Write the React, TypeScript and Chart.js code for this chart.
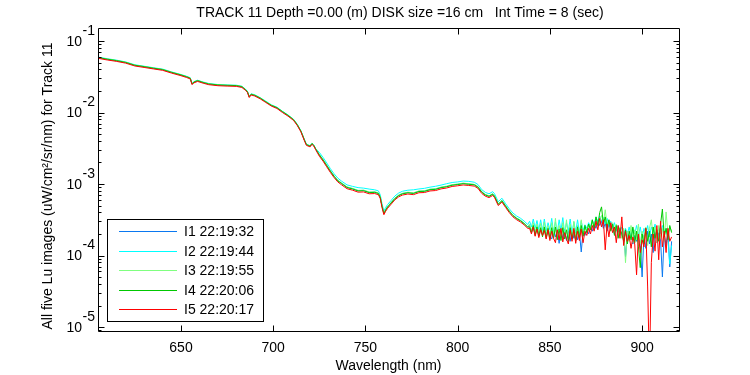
import { useEffect, useRef } from "react";
import { Chart, registerables } from "chart.js";

Chart.register(...registerables);

const TITLE = "TRACK 11 Depth =0.00 (m) DISK size =16 cm   Int Time = 8 (sec)";
const X_TITLE = "Wavelength (nm)";
const Y_TITLE = "All five Lu images (uW/cm²/sr/nm) for Track 11";

const xTicks = [650, 700, 750, 800, 850, 900];
const yTicks = [1e-5, 1e-4, 1e-3, 1e-2, 1e-1];
const yTickExponents = ["-5", "-4", "-3", "-2", "-1"];

const X_MIN = 605;
const X_MAX = 920;
const Y_MIN = 8.8e-6;
const Y_MAX = 0.152;

const seriesLabels = ["I1 22:19:32", "I2 22:19:44", "I3 22:19:55", "I4 22:20:06", "I5 22:20:17"];
const seriesColors = ["#0a78f0", "#00ffff", "#80ff80", "#00c800", "#ff0000"];

const wavelengths = [
  605, 610, 615, 620, 625, 630, 635, 640, 645, 650,
  653, 655, 656, 657, 659, 662, 665, 670, 675, 680,
  683, 685, 686, 687, 688, 690, 693, 696, 699, 702,
  705, 708, 711, 713, 715, 717, 718, 720, 721, 722,
  723, 725, 727, 729, 731, 733, 735, 737, 740, 743,
  746, 749, 752, 755, 757, 758, 759, 760, 761, 762,
  764, 766, 768, 770, 773, 776, 779, 782, 785, 788,
  791, 794, 797, 800, 803, 806, 809, 811, 813, 815,
  817, 819, 820, 822, 824, 826, 828, 830, 832, 834,
  836, 838,
  839, 840, 841, 842, 843, 844, 845, 846, 847, 848,
  849, 850, 851, 852, 853, 854, 855, 856, 857, 858,
  859, 860, 861, 862, 863, 864, 865, 866, 867, 868,
  869, 870, 871, 872, 873, 874, 875, 876, 877, 878,
  879, 880, 881, 882, 883, 884, 885, 886, 887, 888,
  889, 890, 891, 892, 893, 894, 895, 896, 897, 898,
  899, 900, 901, 902, 903, 904, 905, 906, 907, 908,
  909, 910, 911, 912, 913, 914, 915, 916,
];

const i1Values = [
  5.84e-2, 5.54e-2, 5.29e-2, 5.00e-2, 4.56e-2, 4.36e-2, 4.15e-2, 3.97e-2, 3.62e-2, 3.34e-2,
  3.15e-2, 3.01e-2, 2.50e-2, 2.65e-2, 2.77e-2, 2.62e-2, 2.50e-2, 2.42e-2, 2.39e-2, 2.37e-2,
  2.28e-2, 2.08e-2, 1.95e-2, 1.65e-2, 1.80e-2, 1.73e-2, 1.58e-2, 1.41e-2, 1.25e-2, 1.16e-2,
  1.02e-2, 9.09e-3, 7.92e-3, 6.74e-3, 5.48e-3, 4.06e-3, 3.54e-3, 3.38e-3, 3.66e-3, 3.46e-3,
  3.08e-3, 2.57e-3, 2.19e-3, 1.83e-3, 1.52e-3, 1.29e-3, 1.12e-3, 1.03e-3, 9.03e-4, 8.61e-4,
  8.09e-4, 8.14e-4, 7.67e-4, 7.72e-4, 7.46e-4, 6.63e-4, 4.91e-4, 3.91e-4, 4.38e-4, 4.80e-4,
  5.51e-4, 6.33e-4, 6.94e-4, 7.35e-4, 7.61e-4, 7.46e-4, 7.93e-4, 7.98e-4, 8.40e-4, 8.51e-4,
  8.98e-4, 9.24e-4, 9.71e-4, 9.92e-4, 1.02e-3, 1.00e-3, 9.82e-4, 9.15e-4, 7.78e-4, 7.10e-4,
  6.78e-4, 7.27e-4, 6.78e-4, 5.25e-4, 5.88e-4, 4.94e-4, 4.18e-4, 3.64e-4, 3.32e-4, 3.10e-4,
  2.82e-4, 2.52e-4,
  2.63e-4, 2.19e-4, 2.51e-4, 2.00e-4, 2.51e-4, 1.91e-4, 2.40e-4, 1.95e-4, 2.51e-4, 1.82e-4,
  2.34e-4, 1.86e-4, 1.70e-4, 2.29e-4, 1.82e-4, 2.24e-4, 1.48e-4, 2.19e-4, 1.74e-4, 2.34e-4,
  1.62e-4, 2.19e-4, 1.58e-4, 2.29e-4, 1.74e-4, 2.24e-4, 1.66e-4, 2.14e-4, 1.12e-4, 2.19e-4,
  1.91e-4, 2.29e-4, 2.00e-4, 2.51e-4, 2.19e-4, 2.75e-4, 2.40e-4, 3.16e-4, 2.63e-4, 3.02e-4,
  2.40e-4, 2.82e-4, 2.19e-4, 2.75e-4, 2.40e-4, 2.63e-4, 2.00e-4, 2.51e-4, 2.09e-4, 2.40e-4,
  1.82e-4, 2.19e-4, 9.55e-5, 2.00e-4, 1.66e-4, 2.09e-4, 1.45e-4, 1.91e-4, 1.58e-4, 2.00e-4,
  1.38e-4, 5.01e-5, 1.91e-4, 1.26e-4, 2.19e-4, 1.45e-4, 2.00e-4, 1.10e-4, 2.29e-4, 1.51e-4,
  2.09e-4, 1.66e-4, 5.01e-5, 2.00e-4, 1.38e-4, 2.19e-4, 6.92e-5, 1.58e-4,
];

const i2Values = [
  5.96e-2, 5.65e-2, 5.40e-2, 5.10e-2, 4.65e-2, 4.44e-2, 4.23e-2, 4.05e-2, 3.69e-2, 3.40e-2,
  3.21e-2, 3.07e-2, 2.55e-2, 2.70e-2, 2.83e-2, 2.67e-2, 2.55e-2, 2.46e-2, 2.43e-2, 2.41e-2,
  2.33e-2, 2.12e-2, 1.99e-2, 1.68e-2, 1.83e-2, 1.77e-2, 1.61e-2, 1.44e-2, 1.28e-2, 1.19e-2,
  1.04e-2, 9.27e-3, 8.07e-3, 6.87e-3, 5.58e-3, 4.14e-3, 3.61e-3, 3.44e-3, 3.73e-3, 3.53e-3,
  3.14e-3, 2.77e-3, 2.36e-3, 1.97e-3, 1.64e-3, 1.39e-3, 1.21e-3, 1.10e-3, 9.72e-4, 9.27e-4,
  8.90e-4, 8.76e-4, 8.50e-4, 8.31e-4, 8.02e-4, 7.13e-4, 5.29e-4, 4.20e-4, 4.71e-4, 5.16e-4,
  5.93e-4, 6.81e-4, 7.47e-4, 7.91e-4, 8.19e-4, 8.30e-4, 8.53e-4, 8.70e-4, 9.04e-4, 9.30e-4,
  9.66e-4, 1.01e-3, 1.05e-3, 1.07e-3, 1.10e-3, 1.09e-3, 1.06e-3, 9.84e-4, 8.37e-4, 7.64e-4,
  7.30e-4, 7.82e-4, 7.30e-4, 5.65e-4, 6.33e-4, 5.31e-4, 4.50e-4, 3.92e-4, 3.57e-4, 3.33e-4,
  3.04e-4, 2.71e-4,
  3.02e-4, 2.51e-4, 3.24e-4, 2.40e-4, 3.09e-4, 2.29e-4, 3.16e-4, 2.24e-4, 3.24e-4, 2.19e-4,
  2.88e-4, 2.29e-4, 3.31e-4, 2.14e-4, 2.95e-4, 2.09e-4, 3.16e-4, 2.24e-4, 3.39e-4, 2.09e-4,
  2.88e-4, 2.19e-4, 3.24e-4, 2.04e-4, 2.95e-4, 2.14e-4, 3.16e-4, 2.09e-4, 3.02e-4, 2.24e-4,
  2.69e-4, 2.40e-4, 2.88e-4, 2.51e-4, 3.16e-4, 2.69e-4, 3.47e-4, 2.88e-4, 3.55e-4, 3.02e-4,
  3.39e-4, 2.75e-4, 3.31e-4, 2.63e-4, 3.02e-4, 2.40e-4, 2.88e-4, 2.19e-4, 2.63e-4, 2.09e-4,
  2.51e-4, 1.91e-4, 2.40e-4, 2.00e-4, 2.51e-4, 1.82e-4, 2.40e-4, 2.00e-4, 2.63e-4, 1.91e-4,
  2.51e-4, 1.74e-4, 2.40e-4, 2.00e-4, 2.63e-4, 1.82e-4, 2.51e-4, 2.09e-4, 2.75e-4, 1.91e-4,
  2.40e-4, 2.00e-4, 2.63e-4, 2.09e-4, 2.40e-4, 1.74e-4, 7.59e-5, 1.38e-4,
];

const i3Values = [
  5.90e-2, 5.59e-2, 5.35e-2, 5.05e-2, 4.60e-2, 4.40e-2, 4.19e-2, 4.01e-2, 3.66e-2, 3.37e-2,
  3.18e-2, 3.04e-2, 2.52e-2, 2.68e-2, 2.80e-2, 2.65e-2, 2.52e-2, 2.44e-2, 2.41e-2, 2.39e-2,
  2.31e-2, 2.10e-2, 1.97e-2, 1.67e-2, 1.81e-2, 1.75e-2, 1.60e-2, 1.42e-2, 1.27e-2, 1.17e-2,
  1.03e-2, 9.18e-3, 7.99e-3, 6.81e-3, 5.53e-3, 4.10e-3, 3.57e-3, 3.41e-3, 3.70e-3, 3.49e-3,
  3.11e-3, 2.60e-3, 2.22e-3, 1.84e-3, 1.54e-3, 1.30e-3, 1.13e-3, 1.04e-3, 9.12e-4, 8.69e-4,
  8.16e-4, 8.22e-4, 7.74e-4, 7.79e-4, 7.53e-4, 6.69e-4, 4.96e-4, 3.94e-4, 4.42e-4, 4.84e-4,
  5.57e-4, 6.39e-4, 7.01e-4, 7.42e-4, 7.69e-4, 7.53e-4, 8.00e-4, 8.06e-4, 8.48e-4, 8.59e-4,
  9.06e-4, 9.33e-4, 9.81e-4, 1.00e-3, 1.03e-3, 1.01e-3, 9.91e-4, 9.23e-4, 7.85e-4, 7.17e-4,
  6.85e-4, 7.34e-4, 6.85e-4, 5.30e-4, 5.94e-4, 4.98e-4, 4.22e-4, 3.68e-4, 3.35e-4, 3.13e-4,
  2.85e-4, 2.54e-4,
  2.75e-4, 2.19e-4, 2.88e-4, 2.09e-4, 2.75e-4, 2.00e-4, 2.82e-4, 1.95e-4, 2.95e-4, 1.91e-4,
  2.63e-4, 1.86e-4, 2.88e-4, 1.95e-4, 3.31e-4, 1.86e-4, 2.63e-4, 1.78e-4, 2.88e-4, 1.86e-4,
  3.16e-4, 1.74e-4, 2.75e-4, 1.70e-4, 3.02e-4, 1.78e-4, 2.63e-4, 1.86e-4, 3.16e-4, 1.95e-4,
  2.51e-4, 2.19e-4, 2.75e-4, 2.29e-4, 3.02e-4, 2.51e-4, 3.31e-4, 2.63e-4, 3.16e-4, 3.63e-4,
  2.88e-4, 4.37e-4, 2.63e-4, 3.16e-4, 2.29e-4, 2.88e-4, 2.09e-4, 2.75e-4, 1.91e-4, 2.51e-4,
  1.74e-4, 2.40e-4, 7.94e-5, 2.19e-4, 1.58e-4, 2.63e-4, 1.51e-4, 2.29e-4, 1.66e-4, 2.75e-4,
  1.45e-4, 2.19e-4, 1.66e-4, 2.51e-4, 1.38e-4, 2.40e-4, 3.16e-4, 1.82e-4, 2.51e-4, 1.51e-4,
  2.63e-4, 1.74e-4, 2.40e-4, 1.58e-4, 4.07e-4, 2.00e-4, 2.51e-4, 2.19e-4,
];

const i4Values = [
  5.87e-2, 5.57e-2, 5.32e-2, 5.02e-2, 4.58e-2, 4.38e-2, 4.17e-2, 3.99e-2, 3.64e-2, 3.35e-2,
  3.17e-2, 3.02e-2, 2.51e-2, 2.67e-2, 2.79e-2, 2.63e-2, 2.51e-2, 2.43e-2, 2.40e-2, 2.38e-2,
  2.30e-2, 2.09e-2, 1.96e-2, 1.66e-2, 1.80e-2, 1.74e-2, 1.59e-2, 1.41e-2, 1.26e-2, 1.17e-2,
  1.03e-2, 9.13e-3, 7.95e-3, 6.78e-3, 5.50e-3, 4.08e-3, 3.56e-3, 3.39e-3, 3.68e-3, 3.47e-3,
  3.10e-3, 2.55e-3, 2.17e-3, 1.81e-3, 1.51e-3, 1.28e-3, 1.11e-3, 1.02e-3, 8.94e-4, 8.53e-4,
  8.01e-4, 8.06e-4, 7.59e-4, 7.64e-4, 7.38e-4, 6.56e-4, 4.87e-4, 3.87e-4, 4.34e-4, 4.75e-4,
  5.46e-4, 6.27e-4, 6.87e-4, 7.28e-4, 7.54e-4, 7.38e-4, 7.85e-4, 7.90e-4, 8.32e-4, 8.42e-4,
  8.89e-4, 9.15e-4, 9.62e-4, 9.83e-4, 1.01e-3, 9.93e-4, 9.72e-4, 9.06e-4, 7.71e-4, 7.03e-4,
  6.72e-4, 7.20e-4, 6.72e-4, 5.20e-4, 5.82e-4, 4.89e-4, 4.14e-4, 3.61e-4, 3.29e-4, 3.07e-4,
  2.80e-4, 2.50e-4,
  2.51e-4, 2.09e-4, 2.63e-4, 1.91e-4, 2.51e-4, 1.86e-4, 2.45e-4, 1.82e-4, 2.51e-4, 1.74e-4,
  2.40e-4, 1.70e-4, 2.45e-4, 1.74e-4, 2.51e-4, 1.66e-4, 2.34e-4, 1.62e-4, 2.45e-4, 1.70e-4,
  2.29e-4, 1.58e-4, 2.45e-4, 1.70e-4, 2.29e-4, 1.62e-4, 2.51e-4, 1.78e-4, 2.63e-4, 1.86e-4,
  2.63e-4, 2.09e-4, 2.75e-4, 2.29e-4, 3.16e-4, 2.40e-4, 3.47e-4, 2.63e-4, 3.98e-4, 4.79e-4,
  2.75e-4, 3.47e-4, 2.40e-4, 3.16e-4, 2.19e-4, 2.75e-4, 1.91e-4, 2.63e-4, 1.74e-4, 2.40e-4,
  2.00e-4, 1.58e-4, 2.29e-4, 1.45e-4, 2.19e-4, 1.66e-4, 2.51e-4, 1.51e-4, 2.19e-4, 1.32e-4,
  6.76e-5, 2.00e-4, 1.45e-4, 2.40e-4, 1.58e-4, 2.19e-4, 1.32e-4, 2.51e-4, 1.74e-4, 2.29e-4,
  1.58e-4, 2.75e-4, 4.47e-4, 1.82e-4, 2.40e-4, 1.66e-4, 2.63e-4, 2.09e-4,
];

const i5Values = [
  5.73e-2, 5.43e-2, 5.19e-2, 4.90e-2, 4.47e-2, 4.27e-2, 4.07e-2, 3.89e-2, 3.55e-2, 3.27e-2,
  3.09e-2, 2.95e-2, 2.45e-2, 2.60e-2, 2.72e-2, 2.57e-2, 2.45e-2, 2.37e-2, 2.34e-2, 2.32e-2,
  2.24e-2, 2.04e-2, 1.91e-2, 1.62e-2, 1.76e-2, 1.70e-2, 1.55e-2, 1.38e-2, 1.23e-2, 1.14e-2,
  1.00e-2, 8.91e-3, 7.76e-3, 6.61e-3, 5.37e-3, 3.98e-3, 3.47e-3, 3.31e-3, 3.59e-3, 3.39e-3,
  3.02e-3, 2.45e-3, 2.09e-3, 1.74e-3, 1.45e-3, 1.23e-3, 1.07e-3, 9.77e-4, 8.60e-4, 8.20e-4,
  7.70e-4, 7.75e-4, 7.30e-4, 7.35e-4, 7.10e-4, 6.31e-4, 4.68e-4, 3.72e-4, 4.17e-4, 4.57e-4,
  5.25e-4, 6.03e-4, 6.61e-4, 7.00e-4, 7.25e-4, 7.10e-4, 7.55e-4, 7.60e-4, 8.00e-4, 8.10e-4,
  8.55e-4, 8.80e-4, 9.25e-4, 9.45e-4, 9.70e-4, 9.55e-4, 9.35e-4, 8.71e-4, 7.41e-4, 6.76e-4,
  6.46e-4, 6.92e-4, 6.46e-4, 5.00e-4, 5.60e-4, 4.70e-4, 3.98e-4, 3.47e-4, 3.16e-4, 2.95e-4,
  2.69e-4, 2.40e-4,
  2.40e-4, 2.00e-4, 2.51e-4, 1.86e-4, 2.34e-4, 1.78e-4, 2.29e-4, 1.91e-4, 2.24e-4, 1.70e-4,
  2.29e-4, 1.62e-4, 2.19e-4, 1.74e-4, 1.51e-4, 2.29e-4, 1.66e-4, 2.40e-4, 1.55e-4, 2.09e-4,
  1.70e-4, 1.45e-4, 2.29e-4, 1.58e-4, 2.40e-4, 1.48e-4, 2.19e-4, 1.62e-4, 2.34e-4, 1.51e-4,
  2.19e-4, 1.91e-4, 2.40e-4, 2.00e-4, 2.63e-4, 2.19e-4, 3.02e-4, 2.29e-4, 3.31e-4, 2.51e-4,
  3.16e-4, 1.20e-4, 2.75e-4, 1.82e-4, 2.88e-4, 2.09e-4, 2.51e-4, 1.51e-4, 2.63e-4, 1.74e-4,
  3.47e-4, 1.38e-4, 2.19e-4, 1.58e-4, 1.91e-4, 1.26e-4, 1.82e-4, 1.45e-4, 5.37e-5, 2.00e-4,
  1.10e-4, 1.66e-4, 1.32e-4, 2.40e-4, 3.63e-5, 2.5e-6, 7.94e-5, 2.00e-4, 1.15e-4, 2.63e-4,
  8.71e-5, 3.02e-4, 1.32e-4, 2.19e-4, 1.10e-4, 2.40e-4, 1.58e-4, 1.82e-4,
];

const seriesValues = [i1Values, i2Values, i3Values, i4Values, i5Values];

const FONT = '14px "Liberation Sans", Arial, Helvetica, sans-serif';

const matlabAxesPlugin = {
  id: "matlabAxes",
  afterDatasetsDraw(chart: any) {
    const { ctx, chartArea: a, scales } = chart;
    const xs = scales.x;
    const ys = scales.y;
    const L = a.left + 0.5;
    const R = a.right + 0.5;
    const T = a.top + 0.5;
    const B = a.bottom + 0.5;
    ctx.save();
    ctx.strokeStyle = "#000";
    ctx.lineWidth = 1;
    ctx.beginPath();
    ctx.rect(L, T, R - L, B - T);
    for (const v of xTicks) {
      const px = Math.round(xs.getPixelForValue(v)) + 0.5;
      ctx.moveTo(px, B);
      ctx.lineTo(px, B - 6);
      ctx.moveTo(px, T);
      ctx.lineTo(px, T + 6);
    }
    const decades = [1e-6, ...yTicks];
    for (const d of decades) {
      for (let m = 1; m <= 9; m++) {
        const v = d * m;
        if (v < Y_MIN || v > Y_MAX) continue;
        const len = m === 1 ? 6 : 3;
        const py = Math.round(ys.getPixelForValue(v)) + 0.5;
        ctx.moveTo(L, py);
        ctx.lineTo(L + len, py);
        ctx.moveTo(R, py);
        ctx.lineTo(R - len, py);
      }
    }
    ctx.stroke();

    ctx.fillStyle = "#000";
    ctx.font = FONT;
    ctx.textAlign = "center";
    ctx.textBaseline = "middle";
    for (const v of xTicks) {
      ctx.fillText(String(v), xs.getPixelForValue(v), 348);
    }
    yTicks.forEach((v, i) => {
      const py = ys.getPixelForValue(v);
      ctx.textAlign = "right";
      ctx.fillText("10", 82, py + 1);
      ctx.textAlign = "left";
      ctx.fillText(yTickExponents[i], 82.5, py - 10);
    });

    ctx.textAlign = "center";
    ctx.fillText(X_TITLE, (a.left + a.right) / 2, 366);
    ctx.fillText(TITLE, 400, 13);

    ctx.save();
    ctx.translate(48, 186);
    ctx.rotate(-Math.PI / 2);
    ctx.fillText(Y_TITLE, 0, 0);
    ctx.restore();

    // legend
    const lx = 107.5;
    const ly = 219.5;
    ctx.fillStyle = "#fff";
    ctx.fillRect(lx, ly, 156, 102);
    ctx.strokeStyle = "#000";
    ctx.strokeRect(lx, ly, 156, 102);
    const rows = [231.5, 251.5, 270.5, 290.5, 309.5];
    seriesLabels.forEach((label, i) => {
      const y = rows[i];
      ctx.strokeStyle = seriesColors[i];
      ctx.beginPath();
      ctx.moveTo(119, y);
      ctx.lineTo(177, y);
      ctx.stroke();
      ctx.fillStyle = "#000";
      ctx.textAlign = "left";
      ctx.fillText(label, 184, y + 0.5);
    });
    ctx.restore();
  },
};

export default function App() {
  const canvasRef = useRef<HTMLCanvasElement | null>(null);

  useEffect(() => {
    if (!canvasRef.current) return;
    const chart = new Chart(canvasRef.current, {
      type: "line",
      data: {
        datasets: seriesValues.map((vals, i) => ({
          label: seriesLabels[i],
          data: wavelengths.map((w, j) => ({ x: w, y: vals[j] })),
          borderColor: seriesColors[i],
          backgroundColor: seriesColors[i],
          borderWidth: 1,
          pointRadius: 0,
          tension: 0,
          fill: false,
          order: 5 - i,
        })),
      },
      options: {
        responsive: false,
        animation: false,
        devicePixelRatio: 1,
        events: [],
        layout: { padding: { left: 98, right: 71, top: 28, bottom: 44 } },
        scales: {
          x: { type: "linear", min: X_MIN, max: X_MAX, display: false },
          y: { type: "logarithmic", min: Y_MIN, max: Y_MAX, display: false },
        },
        plugins: {
          legend: { display: false },
          tooltip: { enabled: false },
          title: { display: false },
        },
      },
      plugins: [matlabAxesPlugin],
    });
    return () => chart.destroy();
  }, []);

  return (
    <div style={{ position: "fixed", left: 0, top: 0, width: 750, height: 375, background: "#fff" }}>
      <canvas ref={canvasRef} width={750} height={375} style={{ display: "block" }} />
    </div>
  );
}
